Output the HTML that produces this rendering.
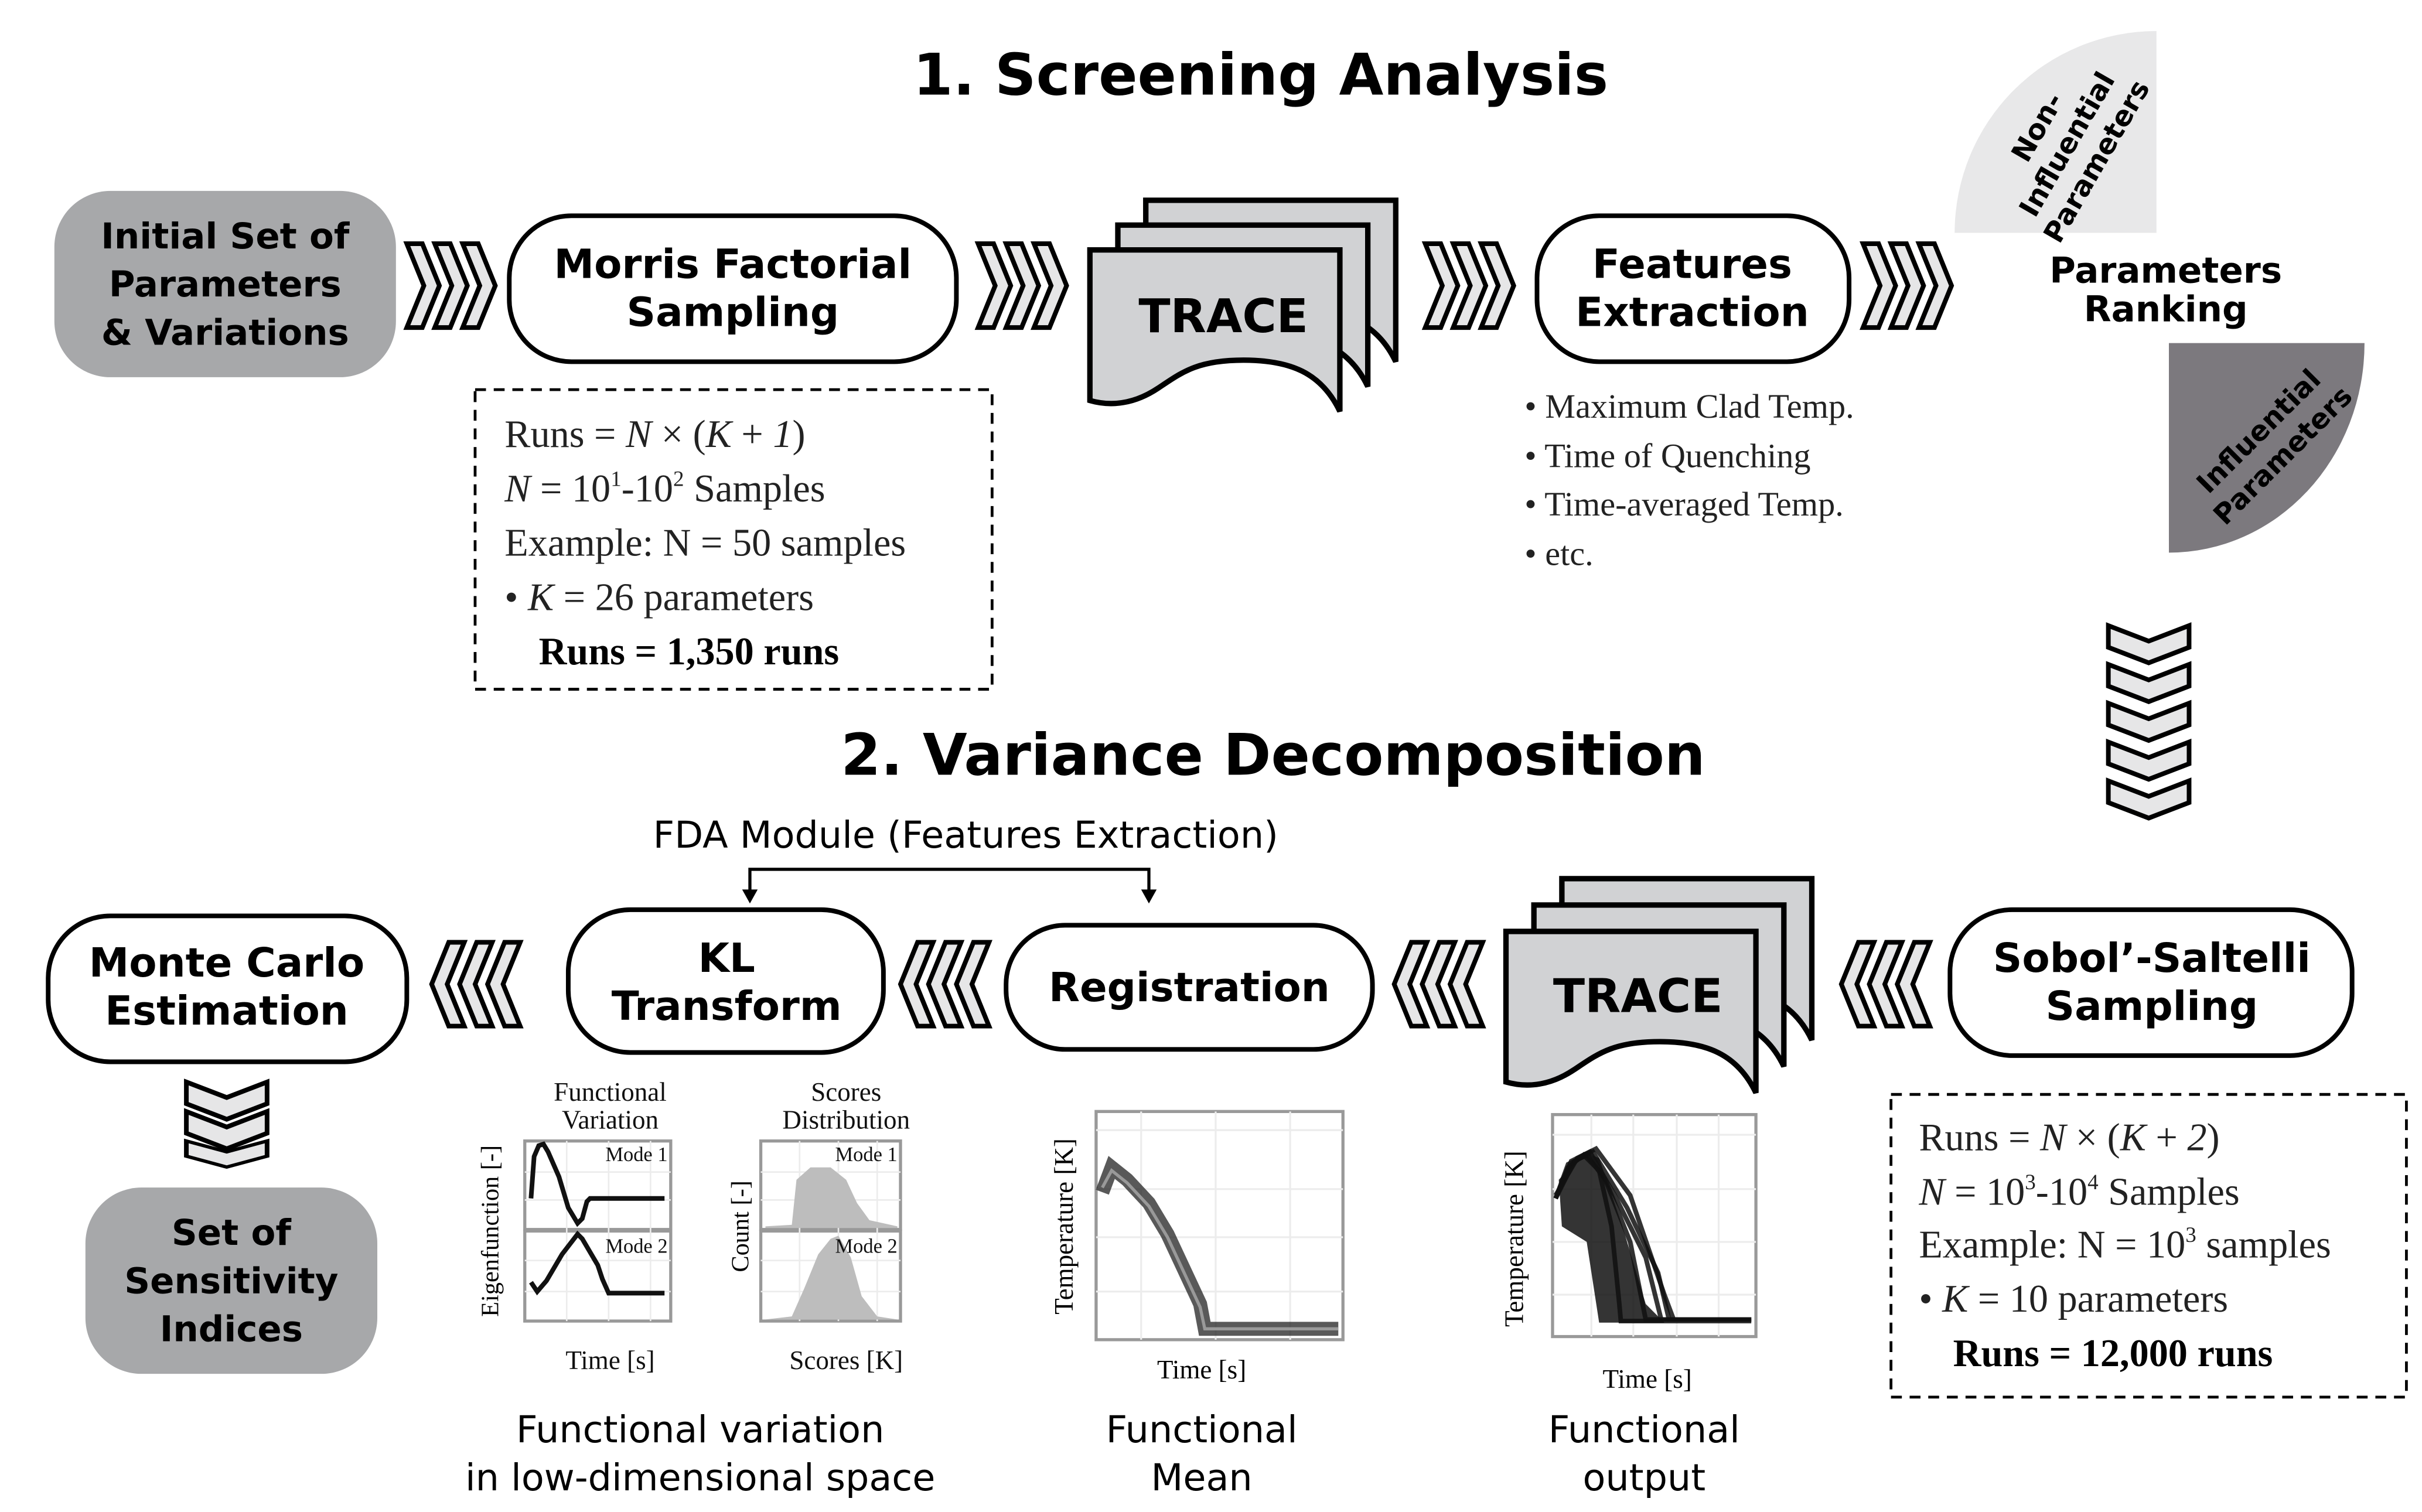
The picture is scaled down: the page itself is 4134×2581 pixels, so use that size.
<!DOCTYPE html>
<html><head><meta charset="utf-8"><style>
html,body{margin:0;padding:0;background:#fff;}
svg{display:block;}
.sb{font-family:"DejaVu Sans","Liberation Sans",sans-serif;font-weight:bold;}
.sn{font-family:"DejaVu Sans","Liberation Sans",sans-serif;}
.sf{font-family:"Liberation Serif",serif;}
</style></head><body>
<svg width="4134" height="2581" viewBox="0 0 1560 974" xmlns="http://www.w3.org/2000/svg">
<defs>
<g id="chr"><polygon points="0,0 10,0 21,27 10,54 0,54 11,27" fill="#e6e6e7" stroke="#000" stroke-width="3" stroke-linejoin="miter"/>
<polygon points="18,0 28,0 39,27 28,54 18,54 29,27" fill="#e6e6e7" stroke="#000" stroke-width="3"/>
<polygon points="36,0 46,0 57,27 46,54 36,54 47,27" fill="#e6e6e7" stroke="#000" stroke-width="3"/></g>
<polygon id="dch" points="0,0 26,10 52,0 52,14 26,24 0,14" fill="#e6e6e7" stroke="#000" stroke-width="3"/>
<path id="doc" d="M0,0 H161 V104 C149,79 129,71 99,71 C69,71 59,79 44,89 C29,99 14,101 0,97 Z" fill="#d1d2d4" stroke="#000" stroke-width="3.5"/>
</defs>
<rect width="1560" height="974" fill="#fff"/>

<!-- Titles -->
<text x="812" y="61" text-anchor="middle" class="sb" font-size="37">1. Screening Analysis</text>
<text x="820" y="499" text-anchor="middle" class="sb" font-size="37">2. Variance Decomposition</text>

<!-- Row 1 -->
<rect x="35" y="123" width="220" height="120" rx="36" fill="#a7a8aa"/>
<g class="sb" font-size="23" text-anchor="middle"><text x="145" y="160">Initial Set of</text><text x="145" y="191">Parameters</text><text x="145" y="222">&amp; Variations</text></g>
<use href="#chr" transform="translate(262,157)"/>
<rect x="328" y="139" width="288" height="94" rx="40" fill="#fff" stroke="#000" stroke-width="3"/>
<g class="sb" font-size="26" text-anchor="middle"><text x="472" y="179">Morris Factorial</text><text x="472" y="210">Sampling</text></g>
<use href="#chr" transform="translate(630,157)"/>

<!-- TRACE 1 -->
<use href="#doc" transform="translate(738,129)"/>
<use href="#doc" transform="translate(720,145)"/>
<use href="#doc" transform="translate(702,161)"/>
<text x="788" y="214" text-anchor="middle" class="sb" font-size="30">TRACE</text>
<use href="#chr" transform="translate(918,157)"/>
<rect x="990" y="139" width="201" height="94" rx="40" fill="#fff" stroke="#000" stroke-width="3"/>
<g class="sb" font-size="26" text-anchor="middle"><text x="1090" y="179">Features</text><text x="1090" y="210">Extraction</text></g>
<use href="#chr" transform="translate(1200,157)"/>

<!-- Parameters ranking -->
<path d="M1389,150 V20 A130,130 0 0 0 1259,150 Z" fill="#e8e8e9"/>
<path d="M1397,221 H1523 A126,135 0 0 1 1397,356 Z" fill="#7c797e"/>
<g class="sb" font-size="18" text-anchor="middle" transform="translate(1335,95) rotate(-60)"><text x="0" y="-20">Non-</text><text x="0" y="2">Influential</text><text x="0" y="24">Parameters</text></g>
<g class="sb" font-size="18" text-anchor="middle" transform="translate(1462,285) rotate(-45)"><text x="0" y="-4">Influential</text><text x="0" y="18">Parameters</text></g>
<g class="sb" font-size="23" text-anchor="middle"><text x="1395" y="182">Parameters</text><text x="1395" y="207">Ranking</text></g>

<!-- Dashed box 1 -->
<rect x="306" y="251" width="333" height="193" fill="none" stroke="#000" stroke-width="1.8" stroke-dasharray="7,5"/>
<g class="sf" font-size="25" fill="#222">
<text x="325" y="288">Runs = <tspan font-style="italic">N</tspan> × (<tspan font-style="italic">K</tspan> + <tspan font-style="italic">1</tspan>)</text>
<text x="325" y="323"><tspan font-style="italic">N</tspan> = 10<tspan font-size="14" dy="-10">1</tspan><tspan dy="10">-10</tspan><tspan font-size="14" dy="-10">2</tspan><tspan dy="10"> Samples</tspan></text>
<text x="325" y="358">Example: N = 50 samples</text>
<text x="325" y="393">• <tspan font-style="italic">K</tspan> = 26 parameters</text>
<text x="347" y="428" font-weight="bold" fill="#000">Runs = 1,350 runs</text>
</g>
<g class="sf" font-size="22" fill="#222">
<text x="982" y="269">• Maximum Clad Temp.</text>
<text x="982" y="301">• Time of  Quenching</text>
<text x="982" y="332">• Time-averaged Temp.</text>
<text x="982" y="364">• etc.</text>
</g>

<!-- Down chevrons right -->
<use href="#dch" transform="translate(1358,403)"/>
<use href="#dch" transform="translate(1358,428)"/>
<use href="#dch" transform="translate(1358,453)"/>
<use href="#dch" transform="translate(1358,478)"/>
<use href="#dch" transform="translate(1358,503)"/>

<!-- Row 2 -->
<text x="622" y="546" text-anchor="middle" class="sn" font-size="24">FDA Module (Features Extraction)</text>
<path d="M483,576 V560 H740 V576" fill="none" stroke="#000" stroke-width="2"/>
<polygon points="478,573 488,573 483,582" fill="#000"/>
<polygon points="735,573 745,573 740,582" fill="#000"/>

<rect x="31" y="590" width="231" height="94" rx="40" fill="#fff" stroke="#000" stroke-width="3"/>
<g class="sb" font-size="26" text-anchor="middle"><text x="146" y="629">Monte Carlo</text><text x="146" y="660">Estimation</text></g>
<use href="#chr" transform="translate(335,607) scale(-1,1)"/>
<rect x="366" y="586" width="203" height="92" rx="40" fill="#fff" stroke="#000" stroke-width="3"/>
<g class="sb" font-size="26" text-anchor="middle"><text x="468" y="626">KL</text><text x="468" y="657">Transform</text></g>
<use href="#chr" transform="translate(637,607) scale(-1,1)"/>
<rect x="648" y="596" width="236" height="80" rx="38" fill="#fff" stroke="#000" stroke-width="3"/>
<text x="766" y="645" text-anchor="middle" class="sb" font-size="26">Registration</text>
<use href="#chr" transform="translate(955,607) scale(-1,1)"/>

<!-- TRACE 2 -->
<use href="#doc" transform="translate(1006,566)"/>
<use href="#doc" transform="translate(988,583)"/>
<use href="#doc" transform="translate(970,600)"/>
<text x="1055" y="652" text-anchor="middle" class="sb" font-size="30">TRACE</text>
<use href="#chr" transform="translate(1243,607) scale(-1,1)"/>
<rect x="1256" y="586" width="259" height="94" rx="40" fill="#fff" stroke="#000" stroke-width="3"/>
<g class="sb" font-size="26" text-anchor="middle"><text x="1386" y="626">Sobol’-Saltelli</text><text x="1386" y="657">Sampling</text></g>

<rect x="1218" y="705" width="332" height="195" fill="none" stroke="#000" stroke-width="1.8" stroke-dasharray="7,5"/>
<g class="sf" font-size="25" fill="#222">
<text x="1236" y="741">Runs = <tspan font-style="italic">N</tspan> × (<tspan font-style="italic">K</tspan> + <tspan font-style="italic">2</tspan>)</text>
<text x="1236" y="776"><tspan font-style="italic">N</tspan> = 10<tspan font-size="14" dy="-10">3</tspan><tspan dy="10">-10</tspan><tspan font-size="14" dy="-10">4</tspan><tspan dy="10"> Samples</tspan></text>
<text x="1236" y="810">Example: N = 10<tspan font-size="14" dy="-10">3</tspan><tspan dy="10"> samples</tspan></text>
<text x="1236" y="845">• <tspan font-style="italic">K</tspan> = 10 parameters</text>
<text x="1258" y="880" font-weight="bold" fill="#000">Runs = 12,000 runs</text>
</g>

<!-- Monte Carlo down chevrons -->
<use href="#dch" transform="translate(120,697)"/>
<use href="#dch" transform="translate(120,716)"/>
<use href="#dch" transform="translate(120,735) scale(1,0.7)"/>

<rect x="55" y="765" width="188" height="120" rx="36" fill="#a7a8aa"/>
<g class="sb" font-size="23" text-anchor="middle"><text x="149" y="802">Set of</text><text x="149" y="833">Sensitivity</text><text x="149" y="864">Indices</text></g>

<!-- Plots: functional variation -->
<g class="sf" font-size="17" text-anchor="middle" fill="#111">
<text x="393" y="709">Functional</text><text x="393" y="727">Variation</text>
<text x="545" y="709">Scores</text><text x="545" y="727">Distribution</text>
<text x="393" y="882">Time [s]</text><text x="545" y="882">Scores [K]</text>
</g>
<text transform="translate(321,793) rotate(-90)" text-anchor="middle" class="sf" font-size="16">Eigenfunction [-]</text>
<text transform="translate(482,790) rotate(-90)" text-anchor="middle" class="sf" font-size="16">Count [-]</text>
<g fill="#fff" stroke="#999" stroke-width="2">
<rect x="338" y="735" width="94" height="57"/><rect x="338" y="793" width="94" height="58"/>
<rect x="490" y="735" width="90" height="57"/><rect x="490" y="793" width="90" height="58"/>
</g>
<g stroke="#ececec" stroke-width="1">
<path d="M338,755H432M338,773H432M338,812H432M338,832H432M365,735V851M392,735V851M419,735V851"/>
<path d="M490,755H580M490,773H580M490,812H580M490,832H580M515,735V851M540,735V851M565,735V851"/>
</g>
<g fill="none" stroke="#111" stroke-width="3">
<path d="M342,772 L344,745 L347,738 L350,737 L353,742 L360,758 L366,778 L372,788 L375,785 L378,774 L380,772 H428"/>
<path d="M342,826 L346,832 L352,825 L362,808 L372,795 L375,798 L385,815 L388,824 L392,833 H428"/>
</g>
<g fill="#bdbdbd">
<path d="M493,790 L510,789 L513,760 L522,752 L535,752 L545,760 L552,775 L560,786 L578,790 V791 H493Z"/>
<path d="M493,850 L510,848 L518,830 L527,808 L535,798 L540,796 L548,810 L555,835 L565,848 L578,850 Z"/>
</g>
<g class="sf" font-size="13" fill="#111" text-anchor="end">
<text x="430" y="748">Mode 1</text><text x="430" y="807">Mode 2</text>
<text x="578" y="748">Mode 1</text><text x="578" y="807">Mode 2</text>
</g>

<!-- Functional mean plot -->
<rect x="706" y="716" width="159" height="147" fill="#fff" stroke="#999" stroke-width="2"/>
<g stroke="#ececec" stroke-width="1.2"><path d="M706,728H865M706,766H865M706,797H865M706,832H865M735,716V863M783,716V863M831,716V863"/></g>
<g fill="none" stroke="#222" stroke-opacity="0.75">
<path d="M710,768 L716,752 L726,760 L740,775 L752,795 L766,825 L773,840 L776,856 H862" stroke-width="9"/>
</g>
<path d="M710,765 L716,754 L726,762 L740,777 L752,797 L766,827 L773,842 L776,856 H862" fill="none" stroke="#999" stroke-width="2"/>
<text transform="translate(691,790) rotate(-90)" text-anchor="middle" class="sf" font-size="17">Temperature [K]</text>
<text x="774" y="888" text-anchor="middle" class="sf" font-size="17">Time [s]</text>

<!-- Functional output plot -->
<rect x="1000" y="718" width="131" height="143" fill="#fff" stroke="#999" stroke-width="2"/>
<g stroke="#ececec" stroke-width="1.2"><path d="M1000,731H1131M1000,766H1131M1000,800H1131M1000,834H1131M1025,718V861M1052,718V861M1080,718V861M1107,718V861"/></g>
<g fill="none" stroke="#111" stroke-opacity="0.85" stroke-width="3">
<path d="M1002,772 L1010,752 L1020,744 L1030,754 L1038,790 L1043,840 L1044,851 H1128"/>
<path d="M1002,772 L1010,750 L1022,744 L1034,760 L1050,800 L1060,850 H1128"/>
<path d="M1002,772 L1012,748 L1024,742 L1040,770 L1060,810 L1070,850 H1128"/>
<path d="M1002,772 L1014,748 L1026,742 L1048,778 L1068,820 L1075,850 H1128"/>
<path d="M1002,770 L1016,746 L1028,740 L1050,770 L1072,834 L1078,850"/>
</g>
<path d="M1004,760 L1020,742 L1030,746 L1045,790 L1060,840 L1072,852 L1030,852 L1022,800 L1006,790Z" fill="#111" fill-opacity="0.85"/>
<text transform="translate(981,798) rotate(-90)" text-anchor="middle" class="sf" font-size="17">Temperature [K]</text>
<text x="1061" y="894" text-anchor="middle" class="sf" font-size="17">Time [s]</text>

<!-- Bottom labels -->
<g class="sn" font-size="24" text-anchor="middle">
<text x="451" y="929">Functional variation</text><text x="451" y="960">in low-dimensional space</text>
<text x="774" y="929">Functional</text><text x="774" y="960">Mean</text>
<text x="1059" y="929">Functional</text><text x="1059" y="960">output</text>
</g>
</svg>
</body></html>
